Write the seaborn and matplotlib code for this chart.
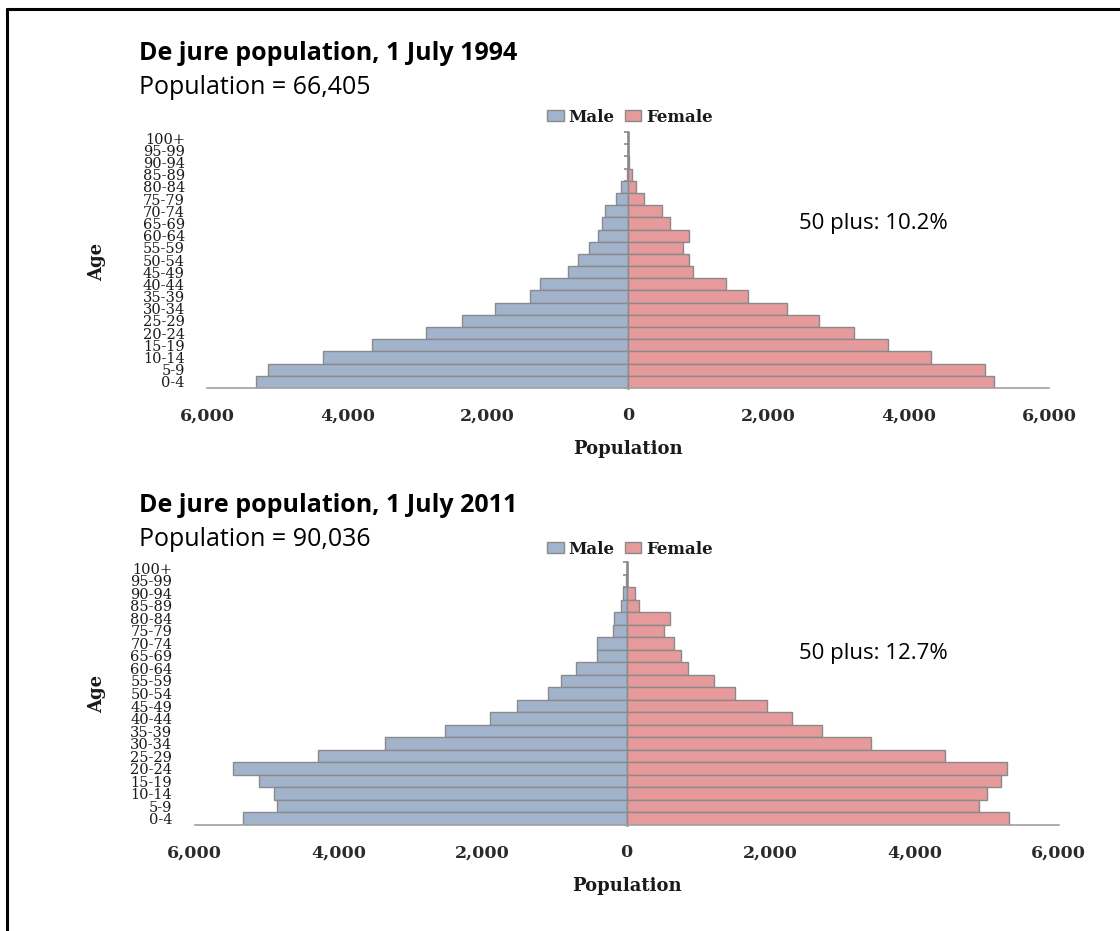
import numpy as np
import pandas as pd
import matplotlib
matplotlib.use("Agg")
import matplotlib.pyplot as plt
import seaborn as sns
from matplotlib.patches import Patch
from matplotlib.lines import Line2D
from matplotlib.ticker import FuncFormatter

# ---------------------------------------------------------------------------
# DATA
# ---------------------------------------------------------------------------
age_groups = ["0-4", "5-9", "10-14", "15-19", "20-24", "25-29", "30-34",
              "35-39", "40-44", "45-49", "50-54", "55-59", "60-64", "65-69",
              "70-74", "75-79", "80-84", "85-89", "90-94", "95-99", "100+"]

male_1994 = [5300, 5130, 4350, 3650, 2880, 2370, 1900, 1400, 1250, 860, 710,
             550, 430, 370, 330, 165, 95, 20, 5, 2, 0]
female_1994 = [5220, 5090, 4320, 3710, 3220, 2720, 2270, 1710, 1400, 920, 865,
               780, 865, 600, 490, 230, 120, 50, 15, 5, 2]

male_2011 = [5330, 4850, 4890, 5110, 5470, 4290, 3360, 2520, 1900, 1520, 1090,
             910, 700, 410, 410, 190, 175, 75, 50, 5, 0]
female_2011 = [5310, 4890, 5010, 5200, 5280, 4430, 3390, 2710, 2300, 1950, 1500,
               1210, 860, 750, 660, 525, 600, 175, 120, 5, 2]

titles = ["De jure population, 1 July 1994", "De jure population, 1 July 2011"]
totals = ["66,405", "90,036"]
plus50 = ["10.2%", "12.7%"]
sexes = ["Male", "Female"]
xticks = [-6000, -4000, -2000, 0, 2000, 4000, 6000]

MALE_COLOR = "#a2b3cc"
FEMALE_COLOR = "#e69a9b"
EDGE = "#8a8a8a"
AXIS_GRAY = "#a0a0a0"
TEXT = "#1a1a1a"

sns.set_theme(style="white")
plt.rcParams["font.family"] = ["DejaVu Serif"]

fig = plt.figure(figsize=(11.2, 9.31), dpi=100)

# axes rectangles in figure fraction (left, bottom, width, height)
panel_rects = [
    (207 / 1120, 1 - 388 / 931, 842 / 1120, 256 / 931),
    (194.5 / 1120, 1 - 825 / 931, 864 / 1120, 263 / 931),
]
# pixel anchors for the text around each panel
title_y = [53, 506]
total_y = [87, 540]
legend_y = [117, 549]
age_label = [(97, 262), (97, 694)]
plus_y = [223, 653]


def draw_panel(ax, male, female):
    n = len(age_groups)
    df = pd.DataFrame({
        "Age": age_groups * 2,
        "Population": [-v for v in male] + list(female),
        "Sex": ["Male"] * n + ["Female"] * n,
    })
    sns.barplot(data=df, x="Population", y="Age", hue="Sex",
                order=age_groups[::-1], hue_order=sexes,
                palette=[MALE_COLOR, FEMALE_COLOR], saturation=1,
                dodge=False, width=1.0, edgecolor=EDGE, linewidth=1.0,
                legend=False, ax=ax)

    ax.set_xlim(-6000, 6000)
    ax.set_xticks(xticks)
    ax.xaxis.set_major_formatter(FuncFormatter(lambda v, p: f"{abs(int(v)):,}"))
    ax.set_xlabel("Population", fontsize=13, fontweight="bold", labelpad=11,
                  color=TEXT)
    ax.set_ylabel("")
    for lab in ax.get_xticklabels():
        lab.set_fontweight("bold")
        lab.set_fontsize(12.5)
    for lab in ax.get_yticklabels():
        lab.set_fontsize(10.5)
        lab.set_color(TEXT)

    for side in ["left", "top", "right"]:
        ax.spines[side].set_visible(False)
    ax.spines["bottom"].set_color(AXIS_GRAY)
    ax.spines["bottom"].set_linewidth(1.2)
    ax.tick_params(axis="x", length=4, color=AXIS_GRAY, width=1.2, pad=10,
                   labelcolor="#2a2a2a")
    ax.tick_params(axis="y", length=0, pad=16)
    ax.grid(False)

    # vertical axis at zero with category tick marks
    sec = ax.secondary_yaxis(0.5)
    sec.set_alignment("left")
    sec.set_yticks(np.arange(n + 1) - 0.5)
    sec.tick_params(axis="y", labelleft=False, length=3, color=EDGE, width=1.2)
    sec.spines["left"].set_color(EDGE)
    sec.spines["left"].set_linewidth(1.8)


for i, (male, female) in enumerate([(male_1994, female_1994), (male_2011, female_2011)]):
    ax = fig.add_axes(panel_rects[i])
    draw_panel(ax, male, female)

    fig.text(139 / 1120, 1 - title_y[i] / 931, titles[i], family="Open Sans",
             fontsize=18, fontweight="bold", ha="left", va="center", color="black")
    fig.text(139 / 1120, 1 - total_y[i] / 931, f"Population = {totals[i]}",
             family="Open Sans", fontsize=18, ha="left", va="center", color="black")
    fig.text(799 / 1120, 1 - plus_y[i] / 931, f"50 plus: {plus50[i]}",
             family="Open Sans", fontsize=16, ha="left", va="center", color="black")
    fig.text(age_label[i][0] / 1120, 1 - age_label[i][1] / 931, "Age",
             fontsize=13, fontweight="bold", rotation=90, ha="center", va="center",
             color=TEXT)

    handles = [Patch(facecolor=MALE_COLOR, edgecolor=EDGE, label="Male"),
               Patch(facecolor=FEMALE_COLOR, edgecolor=EDGE, label="Female")]
    fig.legend(handles=handles, loc="center", ncol=2, frameon=False,
               bbox_to_anchor=(630 / 1120, 1 - legend_y[i] / 931),
               handlelength=1.0, handleheight=0.6, handletextpad=0.3,
               columnspacing=0.6, borderpad=0, labelcolor=TEXT,
               prop={"family": "DejaVu Serif", "weight": "bold", "size": 12})

# frame lines along the top and left edge
fig.add_artist(Line2D([7 / 1120, 1], [1 - 9 / 931, 1 - 9 / 931], color="black",
                      linewidth=2.2, transform=fig.transFigure))
fig.add_artist(Line2D([7 / 1120, 7 / 1120], [1 - 9 / 931, 0], color="black",
                      linewidth=2.2, transform=fig.transFigure))

fig.savefig("out.png", dpi=100, facecolor="white")
